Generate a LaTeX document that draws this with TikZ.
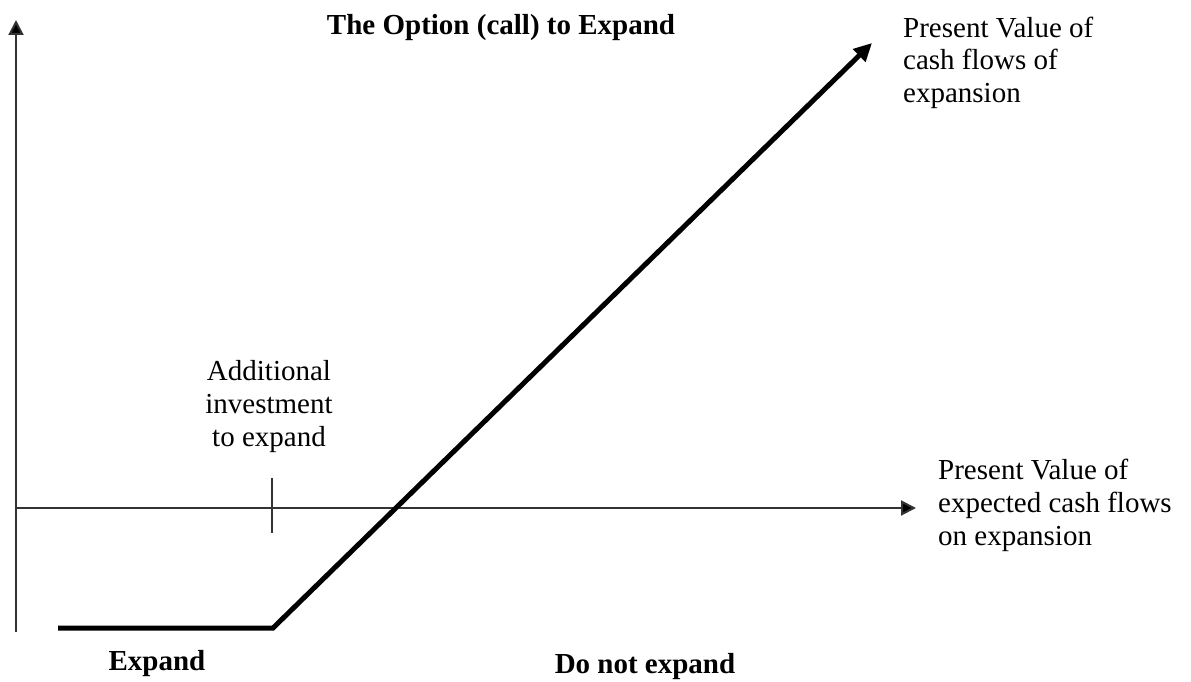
\documentclass[tikz,border=0pt]{standalone}
\usepackage{fontspec}
\setmainfont{Liberation Serif}
\usetikzlibrary{arrows.meta}
\begin{document}
\begin{tikzpicture}[x=1pt,y=-1pt,
  lbl/.style={inner sep=0pt,font=\fontsize{29}{33}\selectfont},
  bold/.style={lbl,font=\fontsize{29}{33}\selectfont\bfseries},
  axis/.style={line width=2pt,draw=black!80,-{Triangle[length=15pt,width=15pt,fill=black]}},
  payoff/.style={line width=5pt,line join=miter,-{Triangle[length=18pt,width=17pt]}},
  tick/.style={line width=1.3pt,draw=black!80}]
\useasboundingbox (0,0) rectangle (1191,682);
\coordinate (O) at (16,632);
\coordinate (ytip) at (16,20);
\coordinate (xs) at (16,508);
\coordinate (xtip) at (916,508);
\coordinate (p0) at (58,628);
\coordinate (k) at (273,628);
\coordinate (ptip) at (872,43);
\coordinate (t1) at (272,478);
\coordinate (t2) at (272,533);
\draw[axis] (O) -- (ytip);
\draw[axis] (xs) -- (xtip);
\draw[payoff] (p0) -- (k) -- (ptip);
\draw[tick] (t1) -- (t2);
\node[bold,anchor=base] (title) at (501,35) {The Option (call) to Expand};
\node[lbl,anchor=base west,align=left] (pvcf) at (903,103) {Present Value of\\cash flows of\\expansion};
\node[lbl,anchor=base,align=center] (add) at (269,446) {Additional\\investment\\to expand};
\node[lbl,anchor=base west,align=left] (pvx) at (938,545) {Present Value of\\expected cash flows\\on expansion};
\node[bold,anchor=base] (exp) at (157,670) {Expand};
\node[bold,anchor=base] (dne) at (645,673) {Do not expand};
\end{tikzpicture}
\end{document}
